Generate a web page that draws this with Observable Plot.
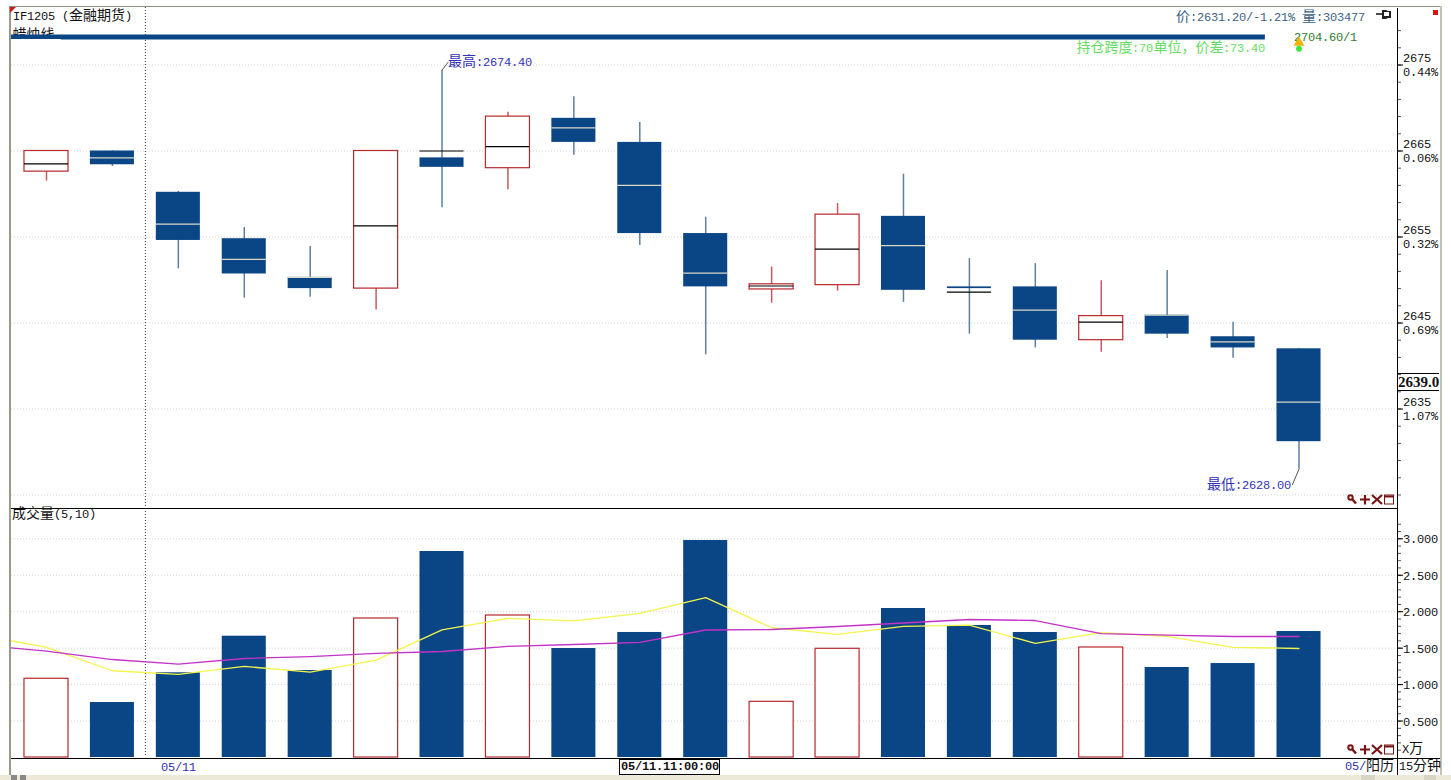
<!DOCTYPE html>
<html><head><meta charset="utf-8">
<script src="https://cdn.jsdelivr.net/npm/d3@7"></script>
<script src="https://cdn.jsdelivr.net/npm/@observablehq/plot@0.6"></script>
<style>
@font-face{font-family:"NumMono";src:local("Liberation Mono");font-weight:normal;size-adjust:83.3%}
@font-face{font-family:"NumMono";src:local("Liberation Mono Bold");font-weight:bold;size-adjust:83.3%}
html,body{margin:0;padding:0;background:#fff;width:1451px;height:780px;overflow:hidden}
#stage{position:relative;width:1451px;height:780px;font-family:"NumMono","Liberation Mono","Noto Sans CJK SC",monospace;font-size:14px;color:#111}
#stage svg.plot{position:absolute;left:0;background:transparent;overflow:hidden}
.b{position:absolute}
.t{position:absolute;white-space:nowrap;line-height:14px}
</style></head><body><div id="stage"></div>
<script>
// ---- candle data
const opens  = [2662.6,2665.0,2660.2,2654.8,2650.3,2649.0,2664.2,2663.0,2668.8,2666.0,2655.4,2648.9,2649.4,2657.4,2649.2,2649.2,2643.0,2645.9,2643.4,2642.0];
const closes = [2665.0,2663.4,2654.6,2650.7,2649.0,2665.0,2663.1,2669.0,2666.0,2655.4,2649.2,2649.5,2657.6,2648.8,2649.0,2643.0,2645.8,2643.7,2642.1,2631.2];
const highs  = [2665.0,2665.0,2660.3,2656.1,2653.9,2665.0,2674.4,2669.5,2671.3,2668.3,2657.3,2651.5,2658.9,2662.3,2652.5,2651.9,2649.9,2651.1,2645.1,2642.0];
const lows   = [2661.5,2663.2,2651.3,2647.9,2648.0,2646.5,2658.4,2660.5,2664.5,2654.0,2641.3,2647.3,2648.7,2647.4,2643.7,2642.1,2641.6,2643.2,2640.9,2628.0];
const mids   = [2663.5,2664.2,2656.5,2652.4,2650.3,2656.3,2665.0,2665.5,2667.7,2661.0,2650.8,2649.3,2653.6,2654.0,2648.6,2646.5,2645.1,2645.9,2642.8,2635.8];
// ---- volume data, in units of 10k
const volumes = [1.08,0.754,1.162,1.664,1.193,1.907,2.826,1.948,1.495,1.715,2.977,0.764,1.491,2.044,1.811,1.715,1.509,1.235,1.289,1.728];
const ma5  = [1.68,1.51,1.19,1.14,1.25,1.171,1.336,1.750,1.908,1.874,1.978,2.192,1.780,1.688,1.798,1.817,1.565,1.714,1.663,1.512,1.495];
const ma10 = [1.54,1.46,1.344,1.28,1.358,1.385,1.427,1.454,1.523,1.55,1.578,1.749,1.756,1.797,1.845,1.893,1.879,1.70,1.678,1.66,1.66];
// ---- tick labels
const priceTicks = [2675,2665,2655,2645,2635];
const pricePct   = ["0.44%","0.06%","0.32%","0.69%","1.07%"];
const priceGrid  = [2675,2665,2655,2645,2635,2625];
const volTicks   = [3,2.5,2,1.5,1,0.5];
const dayBoundary = 1.5;
const spanEnd = 18.49, spanLevel = 2678.25;

const NAVY="#0a4585", RED="#b8282c", WICKB="#5f7f9f", WICKR="#c65a5e";
const FONT='"NumMono","Liberation Mono","Noto Sans CJK SC",monospace';
const idx = volumes.map((_,i)=>i);
const half = 0.334;
const isUp = i => closes[i] >= opens[i];
const upI = idx.filter(isUp), dnI = idx.filter(i=>!isUp(i));
const stage = document.getElementById("stage");
const xScale = {domain:[0,19],range:[46,1298.5]};

function midColor(i){
  const t=Math.max(opens[i],closes[i]), b=Math.min(opens[i],closes[i]);
  return (!isUp(i) && mids[i]<=t && mids[i]>=b) ? "#d9d9c8" : "#000";
}
const pricePlot = Plot.plot({
  width:1451,height:508,marginLeft:11,marginRight:54,marginTop:7,marginBottom:0,
  x:{...xScale,axis:null},
  y:{domain:[2625,2675],range:[494.5,64.5],axis:null},
  style:{fontFamily:FONT,fontSize:"14px",background:"transparent"},
  marks:[
    Plot.ruleY(priceGrid,{stroke:"#d4d4d4",strokeDasharray:"1,2"}),
    Plot.ruleX([dayBoundary],{stroke:"#334",strokeDasharray:"1,2"}),
    Plot.text(["蜡烛线"],{frameAnchor:"top-left",dx:1,dy:22,lineAnchor:"top",fill:"#111"}),
    Plot.ruleY([spanLevel],{x1:-1,x2:spanEnd,stroke:NAVY,strokeWidth:5,clip:true}),
    Plot.ruleX(idx,{x:d=>d,y1:d=>lows[d],y2:d=>highs[d],stroke:d=>isUp(d)?WICKR:WICKB,strokeWidth:1.5}),
    Plot.rect(dnI,{x1:d=>d-half,x2:d=>d+half,y1:d=>opens[d],y2:d=>closes[d],fill:NAVY}),
    Plot.rect(upI,{x1:d=>d-half,x2:d=>d+half,y1:d=>opens[d],y2:d=>closes[d],fill:"#fff",stroke:RED,strokeWidth:1.2}),
    Plot.ruleY(idx,{y:d=>mids[d],x1:d=>d-half,x2:d=>d+half,stroke:midColor,strokeWidth:1.2}),
    Plot.line([[6,2674.4],[6.09,2675.3]],{x:d=>d[0],y:d=>d[1],stroke:"#555",strokeWidth:1}),
    Plot.line([[19,2628.0],[18.9,2626.2]],{x:d=>d[0],y:d=>d[1],stroke:"#555",strokeWidth:1}),
    Plot.text(["最高:2674.40"],{x:6,y:2675.4,dx:6,textAnchor:"start",fill:"#3030b8"}),
    Plot.text(["最低:2628.00"],{x:19,y:2626.2,dx:-8,textAnchor:"end",fill:"#3030b8"}),
    Plot.text(["持仓跨度:70单位\uFF0C价差:73.40"],{x:spanEnd,y:2677.0,textAnchor:"end",fill:"#63dd63"}),
    Plot.text(["2704.60/1"],{x:18.92,y:2678.3,textAnchor:"start",fill:"#2f7a2f"}),
    Plot.dot([0],{x:19,y:2677.6,symbol:"triangle",r:4,fill:"#f0b400"}),
    Plot.dot([0],{x:19,y:2676.9,r:3,fill:"#3ee63e"}),
    Plot.axisY(d3.range(2625,2681,2),{anchor:"right",tickSize:3,tickFormat:()=>"",stroke:"#555"}),
    Plot.axisY(priceTicks,{anchor:"right",tickSize:5,tickPadding:0,stroke:"#000",fill:"#111",lineHeight:1,fontSize:14,
      tickFormat:d=>d+"\n"+pricePct[priceTicks.indexOf(d)],textOverflow:null})
  ]
});
pricePlot.style.top="0px";

const volPlot = Plot.plot({
  width:1451,height:271,marginLeft:11,marginRight:54,marginTop:0,marginBottom:22,
  x:{...xScale,axis:null},
  y:{domain:[0,3],range:[249,30.3],axis:null},
  style:{fontFamily:FONT,fontSize:"14px",background:"transparent"},
  marks:[
    Plot.ruleY(volTicks,{stroke:"#d4d4d4",strokeDasharray:"1,2"}),
    Plot.ruleX([dayBoundary],{stroke:"#334",strokeDasharray:"1,2"}),
    Plot.rect(dnI,{x1:d=>d-half,x2:d=>d+half,y1:0,y2:d=>volumes[d],fill:NAVY}),
    Plot.rect(upI,{x1:d=>d-half,x2:d=>d+half,y1:0,y2:d=>volumes[d],fill:"#fff",stroke:RED,strokeWidth:1.2}),
    Plot.line(ma5,{x:(d,i)=>i-1,y:d=>d,stroke:"#f4f44c",strokeWidth:1.3,clip:true}),
    Plot.line(ma10,{x:(d,i)=>i-1,y:d=>d,stroke:"#c433c8",strokeWidth:1.3,clip:true}),
    Plot.text(["05/11"],{x:2,frameAnchor:"bottom",dy:9,lineAnchor:"middle",fill:"#3030a8"}),
    Plot.axisY(d3.range(0.1,3.3,0.1),{anchor:"right",tickSize:3,tickFormat:()=>"",stroke:"#555"}),
    Plot.axisY(volTicks,{anchor:"right",tickSize:5,tickPadding:0,stroke:"#000",fill:"#111",fontSize:14,tickFormat:d=>d.toFixed(3)})
  ]
});
volPlot.style.top="509px";
stage.append(pricePlot,volPlot);

// ---- window chrome
function box(l,t,w,h,c){const d=document.createElement("div");d.className="b";d.style.cssText=`left:${l}px;top:${t}px;width:${w}px;height:${h}px;background:${c}`;stage.append(d);return d;}
function txt(s,l,t,extra=""){const d=document.createElement("div");d.className="t";d.style.cssText=`left:${l}px;top:${t}px;${extra}`;d.innerHTML=s;stage.append(d);return d;}
box(9,6,2,769,"#9c9a8c");
box(9,6,1432,1,"#8f8d80");
box(1440,6,2,769,"#c4c2b2");
box(11,508,1386,1,"#000");
box(11,758,1429,1,"#000");
box(1397,8,1,767,"#000");
box(0,775,1451,5,"#ece9d8");
box(11,775,6,5,"#888"); box(20,775,6,5,"#888");
box(1361,775,14,5,"#d8d5c4"); box(1424,775,12,5,"#d8d5c4");
box(11,39,50,4,"#fff");
const tri=document.createElement("div");tri.className="b";tri.style.cssText="left:10px;top:7px;width:0;height:0;border-top:6px solid #d01818;border-right:6px solid transparent";stage.append(tri);
box(1433,10,5,5,"#e01010");

txt("IF1205 (金融期货)",13,10);
txt("价:2631.20/-1.21% 量:303477",1176,11,"color:#3d6185");
txt("成交量(5,10)",12,508);
txt("2639.0",1398,374,"font-weight:bold;font-family:'Liberation Serif',serif;font-size:15px;line-height:16px");
box(1398,373,41,1,"#000");box(1398,390,41,1,"#000");
txt("05/11.11:00:00",620,760,"font-weight:bold;background:#fff;outline:1px solid #000;padding:0 0.5px");
txt('<span style="color:#3030a8">05/</span>阳历',1345,760);
txt("15分钟",1399,760);
txt("X万",1402,743);

const icon = ()=>`<svg width="48" height="11" viewBox="0 0 48 11"><g stroke="#7a1414" fill="none" stroke-width="2"><circle cx="3.5" cy="3.5" r="2.2"/><path d="M5 5L9 9.5" stroke-width="2.5"/><path d="M13 5.5H23M18 1V10.5" stroke-width="2.2"/><path d="M25 1L35 10M35 1L25 10" stroke-width="2.2"/><rect x="37.5" y="1" width="9" height="9" stroke-width="1"/><path d="M37.5 2.5H46.5" stroke-width="2"/></g></svg>`;
txt(icon(),1347,494); txt(icon(),1347,744);
txt(`<svg width="16" height="11" viewBox="0 0 16 11"><path d="M0 5H6" stroke="#111" stroke-width="1.5"/><path d="M6 1H10L12 2H15V9H12L10 10H6Z" fill="#222"/><rect x="8" y="3" width="5" height="4" fill="#fff"/></svg>`,1376,9);
</script></body></html>
